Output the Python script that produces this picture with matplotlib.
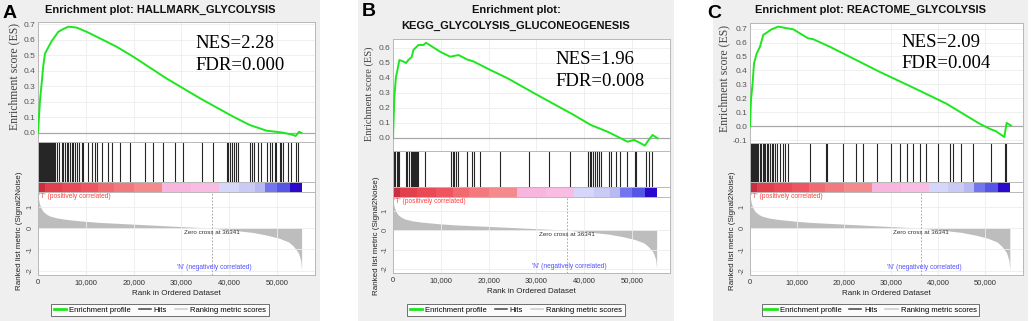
import numpy as np
import matplotlib
matplotlib.use('Agg')
import matplotlib.pyplot as plt
from matplotlib.lines import Line2D
from matplotlib.patches import Rectangle

plt.rcParams['font.family'] = ['Liberation Sans', 'DejaVu Sans']

W, H = 1031, 321

# shared ranked gene list (same dataset behind all three gene sets)
metric_rank = [0, 300, 700, 1100, 1800, 2500, 4000, 6000, 9500, 13000, 20000, 27000,
               34000, 36341, 41000, 45000, 48000, 50500, 52500, 53500, 54500, 55000, 55200]
metric_value = [1.5, 1.15, 0.92, 0.78, 0.65, 0.57, 0.48, 0.41, 0.33, 0.27, 0.19, 0.11,
                0.03, 0.0, -0.1, -0.2, -0.33, -0.47, -0.65, -0.85, -1.15, -1.5, -1.95]
zero_cross = 36341
band_edges = [0, 1500, 5000, 9000, 12500, 16000, 20000, 26000, 32000, 38000, 42000,
              45500, 47500, 50000, 52700, 55200]
band_colors = ['#c9303f', '#e2404c', '#ea4a55', '#ee5560', '#f06a70', '#f27a7e', '#f58a8c',
               '#f8b6de', '#f9bce3', '#d6d6fa', '#cacaf6', '#b8b8f2', '#7474ee', '#5656e6',
               '#2a08cc']

# A: HALLMARK_GLYCOLYSIS
a_title = ['Enrichment plot: HALLMARK_GLYCOLYSIS']
a_es_rank = [0, 420, 770, 1100, 1460, 2160, 2860, 3560, 4250, 5300, 6350, 8100, 10190,
             12970, 16460, 19940, 26920, 33900, 40860, 44350, 47840, 51300, 53070, 53970,
             54670, 55170]
a_es = [0.0, 0.21, 0.32, 0.43, 0.51, 0.55, 0.59, 0.62, 0.65, 0.668, 0.683, 0.677, 0.65,
        0.608, 0.554, 0.49, 0.35, 0.223, 0.105, 0.051, 0.015, 0.002, -0.01, -0.019,
        0.008, 0.0]
a_hits = [60, 150, 230, 320, 400, 480, 560, 650, 740, 820, 900, 990, 1080, 1170, 1260,
          1350, 1450, 1550, 1650, 1750, 1850, 1960, 2070, 2180, 2300, 2420, 2540, 2660,
          2790, 2920, 3050, 3190, 3330, 3480, 3900, 4460, 4950, 5300, 5650, 6000, 6350,
          6700, 7180, 7390, 7740, 8090, 8580, 9135, 9480, 10530, 11230, 11920, 12270,
          13320, 14710, 15410, 17150, 19250, 22380, 24000, 26220, 28660, 30400, 34380,
          36680, 39470, 39820, 40170, 40520, 41000, 41420, 41910, 44350, 44910, 45190,
          46100, 46790, 47980, 48530, 49090, 49580, 49930, 50630, 50980, 51330, 52370,
          53070, 54120, 54460]
a_stats = ['NES=2.28', 'FDR=0.000']

# B: KEGG_GLYCOLYSIS_GLUCONEOGENESIS
b_title = ['Enrichment plot:', 'KEGG_GLYCOLYSIS_GLUCONEOGENESIS']
b_es_rank = [0, 280, 630, 910, 1330, 2170, 2730, 3220, 3920, 4270, 5320, 6370, 6930, 9870,
             11970, 13720, 15480, 16870, 20380, 23880, 30880, 37880, 41390, 44890, 46990,
             49090, 50490, 51890, 52730, 53290, 54340, 55390]
b_es = [0.0, 0.275, 0.41, 0.45, 0.52, 0.51, 0.5, 0.52, 0.54, 0.587, 0.62, 0.62, 0.635,
        0.575, 0.542, 0.553, 0.524, 0.51, 0.453, 0.4, 0.275, 0.153, 0.087, 0.042, 0.009,
        -0.025, -0.013, -0.036, -0.051, -0.025, 0.02, -0.002]
b_hits = [210, 420, 770, 1120, 1330, 2730, 3010, 3430, 3710, 3990, 4130, 4410, 4620, 4830,
          5110, 5320, 6720, 12110, 12540, 12820, 13240, 13520, 15480, 16600, 16880, 18280,
          22340, 28430, 32630, 37040, 40820, 41250, 41530, 41950, 42230, 42650, 43140,
          43630, 45240, 45590, 46640, 47550, 49090, 50630, 50840, 52940, 53640, 54130]
b_stats = ['NES=1.96', 'FDR=0.008']

# C: REACTOME_GLYCOLYSIS
c_title = ['Enrichment plot: REACTOME_GLYCOLYSIS']
c_es_rank = [0, 210, 560, 850, 1410, 2120, 2820, 3530, 4590, 6000, 7770, 9180, 12360,
             13420, 16950, 20480, 27540, 34600, 41670, 45200, 48730, 50850, 52260, 54030,
             54520, 55450]
c_es = [0.0, 0.19, 0.31, 0.45, 0.52, 0.57, 0.655, 0.67, 0.695, 0.714, 0.703, 0.695, 0.63,
        0.624, 0.57, 0.51, 0.39, 0.278, 0.163, 0.091, 0.019, -0.017, -0.036, -0.077,
        0.024, 0.005]
c_hits = [60, 140, 230, 320, 420, 520, 620, 720, 830, 940, 1050, 1170, 1290, 1410, 1770,
          2120, 2330, 2680, 2970, 3250, 3530, 3880, 4240, 4590, 4940, 5300, 5790, 6360,
          6920, 7420, 8120, 12710, 16100, 16380, 19770, 22460, 24010, 26980, 30010, 31780,
          33330, 34600, 36020, 37290, 39900, 42580, 43080, 44840, 47320, 51200, 54240,
          54380]
c_stats = ['NES=2.09', 'FDR=0.004']

GREEN = '#1ee61e'
XMAX = 58000


def box(x0, x1, y0, y1):
    return [x0 / W, 1 - y1 / H, (x1 - x0) / W, (y1 - y0) / H]


def light_frame(ax, color='#b8b8b8'):
    for s in ax.spines.values():
        s.set_color(color)
        s.set_linewidth(0.7)


def draw_panel(fig, letter, title, es_rank, es, hits, stats, lay):
    bx0, bx1 = lay['bg']
    fig.patches.append(Rectangle((bx0 / W, 0), (bx1 - bx0) / W, 1, transform=fig.transFigure,
                                 facecolor='#efefef', edgecolor='none', zorder=-10))
    cx = (bx0 + bx1) / 2
    x0, x1 = lay['x']

    fig.text(lay['letter'][0] / W, 1 - lay['letter'][1] / H, letter, fontsize=14,
             fontweight='bold', ha='left', va='center')
    for i, line in enumerate(title):
        fig.text(cx / W, 1 - (10 + 16 * i) / H, line, fontsize=8, fontweight='bold',
                 ha='center', va='center', color='#111111')

    # running enrichment score
    ax = fig.add_axes(box(x0, x1, *lay['es']))
    ax.plot(es_rank, es, color=GREEN, lw=1.4, zorder=3)
    ax.axhline(0, color='#a8a8a8', lw=0.9, zorder=2)
    ax.set_xlim(0, XMAX)
    ax.set_ylim(*lay['es_ylim'])
    ax.set_xticks(range(0, 60000, 10000))
    ax.set_yticks(lay['es_ticks'])
    ax.set_yticklabels([f'{t:.1f}' for t in lay['es_ticks']])
    ax.grid(color='#ececec', lw=0.6)
    ax.tick_params(axis='x', labelbottom=False, length=0)
    ax.tick_params(axis='y', labelsize=6, labelcolor='#555555', length=0, pad=2)
    light_frame(ax)
    fig.text(lay['es_label'][0] / W, 1 - lay['es_label'][1] / H, 'Enrichment score (ES)',
             family='Liberation Serif', fontsize=lay['es_label_size'], color='#444444',
             rotation=90, ha='center', va='center')
    nx, ny1, ny2 = lay['stats']
    for s, yy in zip(stats, (ny1, ny2)):
        fig.text(nx / W, 1 - yy / H, s, family='Liberation Serif', fontsize=13.5,
                 ha='left', va='baseline')

    # hits
    axh = fig.add_axes(box(x0, x1, *lay['hits']))
    axh.vlines(hits, 0, 1, color='#262626', lw=0.8)
    axh.set_xlim(0, XMAX)
    axh.set_ylim(0, 1)
    axh.set_xticks([])
    axh.set_yticks([])
    light_frame(axh)

    # colour band of the ranked list
    axb = fig.add_axes(box(x0, x1, *lay['band']))
    for e0, e1, c in zip(band_edges[:-1], band_edges[1:], band_colors):
        axb.axvspan(e0, e1, color=c, lw=0)
    axb.set_xlim(0, XMAX)
    axb.set_xticks([])
    axb.set_yticks([])
    light_frame(axb)

    # ranked list metric
    axm = fig.add_axes(box(x0, x1, *lay['met']))
    axm.fill_between(metric_rank, 0, metric_value, color='#bdbdbd', lw=0)
    axm.axvline(zero_cross, color='#9a9a9a', ls=(0, (2, 2)), lw=0.6)
    axm.set_xlim(0, XMAX)
    axm.set_ylim(-2.2, 1.7)
    axm.set_xticks(range(0, 60000, 10000))
    axm.set_xticklabels([f'{t:,}' for t in range(0, 60000, 10000)])
    axm.set_yticks([-2, -1, 0, 1])
    axm.set_yticklabels(['-2', '-1', '0', '1'], rotation=90, va='center')
    axm.grid(color='#ececec', lw=0.6)
    axm.tick_params(axis='x', labelsize=5.5, labelcolor='#333333', length=0, pad=3)
    axm.tick_params(axis='y', labelsize=5.5, labelcolor='#555555', length=0, pad=3)
    light_frame(axm)
    axm.set_xlabel('Rank in Ordered Dataset', fontsize=5.8, color='#222222', labelpad=2.5)
    axm.text(300, 1.47, "'T' (positively correlated)", color='#ff4040', fontsize=4.8,
             ha='left', va='center')
    axm.text(37000, -1.85, "'N' (negatively correlated)", color='#5050ff', fontsize=4.8,
             ha='center', va='center')
    axm.text(zero_cross, -0.2, f'Zero cross at {zero_cross}', color='#333333', fontsize=4.5,
             ha='center', va='center')
    fig.text(lay['met_label'][0] / W, 1 - lay['met_label'][1] / H,
             'Ranked list metric (Signal2Noise)', fontsize=5.8, color='#222222',
             rotation=90, ha='center', va='center')

    handles = [Line2D([], [], color=GREEN, lw=2),
               Line2D([], [], color='#444444', lw=1.1),
               Line2D([], [], color='#cccccc', lw=1.1)]
    leg = fig.legend(handles, ['Enrichment profile', 'Hits', 'Ranking metric scores'],
                     loc='center', bbox_to_anchor=(cx / W, 1 - 310 / H), ncol=3,
                     fontsize=5.5, frameon=True, fancybox=False, edgecolor='#333333',
                     handlelength=1.6, handletextpad=0.4, columnspacing=1.0,
                     borderpad=0.35)
    leg.get_frame().set_linewidth(0.6)


fig = plt.figure(figsize=(W / 100, H / 100), dpi=100, facecolor='white')

draw_panel(fig, 'A', a_title, a_es_rank, a_es, a_hits, a_stats, dict(
    bg=(0, 320), x=(38, 315), letter=(3, 13), es=(22, 142), hits=(142, 182),
    band=(182, 192), met=(192, 275), es_ylim=(-0.058, 0.713),
    es_ticks=[0.0, 0.1, 0.2, 0.3, 0.4, 0.5, 0.6, 0.7], es_label=(14, 77),
    es_label_size=8.5, met_label=(20, 231), stats=(195, 48, 70)))

draw_panel(fig, 'B', b_title, b_es_rank, b_es, b_hits, b_stats, dict(
    bg=(358, 674), x=(393, 670), letter=(362, 12), es=(39, 151), hits=(151, 187),
    band=(187, 197), met=(197, 273), es_ylim=(-0.087, 0.66),
    es_ticks=[0.0, 0.1, 0.2, 0.3, 0.4, 0.5, 0.6], es_label=(369, 94),
    es_label_size=7.5, met_label=(377, 236), stats=(555, 64, 86)))

draw_panel(fig, 'C', c_title, c_es_rank, c_es, c_hits, c_stats, dict(
    bg=(713, 1028), x=(750, 1023), letter=(707, 13), es=(23, 143), hits=(143, 182),
    band=(182, 192), met=(192, 275), es_ylim=(-0.12, 0.74),
    es_ticks=[-0.1, 0.0, 0.1, 0.2, 0.3, 0.4, 0.5, 0.6, 0.7], es_label=(724, 78),
    es_label_size=8.5, met_label=(733, 231), stats=(901, 47, 68)))

fig.savefig('out.png', dpi=100, facecolor='white')
